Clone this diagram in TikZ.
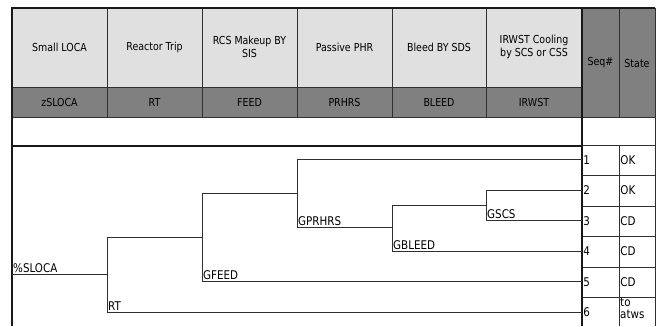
\documentclass[tikz,border=0pt]{standalone}
\usepackage{fontspec}
\setmainfont{DejaVu Sans}[FakeStretch=0.86]
\definecolor{lightg}{HTML}{E0E0E0}
\definecolor{darkg}{HTML}{808080}
\definecolor{lnc}{HTML}{303030}
\begin{document}
\begin{tikzpicture}[x=1pt,y=-1pt,
  grid/.style={draw=lnc, line width=0.8pt},
  thickln/.style={draw=black!90, line width=1.7pt},
  branch/.style={draw=lnc, line width=0.8pt},
  hdr/.style={font=\fontsize{11}{13}\selectfont, align=center, text=black, inner sep=0pt},
  lbl/.style={font=\fontsize{12}{13}\selectfont, anchor=south west, inner sep=1pt},
  cellt/.style={font=\fontsize{12}{13}\selectfont, anchor=west, inner sep=1.2pt}]
\useasboundingbox (0,0) rectangle (660,326);
\clip (0,0) rectangle (660,326);
% fills
\fill[lightg] (12,8) rectangle (582,87);
\fill[darkg] (12,87) rectangle (582,117);
\fill[darkg] (582,8) rectangle (655,117);
% header grid
\foreach \x in {107,202,297,392,486} \draw[grid] (\x,8) -- (\x,117);
\draw[grid] (12,87) -- (582,87);
\draw[grid] (12,117) -- (655,117);
\draw[grid] (619,8) -- (619,117);
\draw[grid] (619,145) -- (619,326);
\draw[grid] (655,8) -- (655,326);
\foreach \y in {145,175.5,206,236.5,267,297.5} \draw[grid] (582,\y) -- (655,\y);
% thick borders
\draw[thickln] (12,8) -- (655,8);
\draw[thickln] (12,7.2) -- (12,326);
\draw[thickln] (582,8) -- (582,326);
\draw[thickln] (12,146) -- (582,146);
% header texts
\node[hdr] (h1) at (59.5,47) {Small LOCA};
\node[hdr] (h2) at (154.5,47) {Reactor Trip};
\node[hdr] (h3) at (249.5,47) {RCS Makeup BY\\SIS};
\node[hdr] (h4) at (344.5,47) {Passive PHR};
\node[hdr] (h5) at (439,47) {Bleed BY SDS};
\node[hdr] (h6) at (534,47) {IRWST Cooling\\by SCS or CSS};
\node[hdr] (c1) at (59.5,102) {zSLOCA};
\node[hdr] (c2) at (154.5,102) {RT};
\node[hdr] (c3) at (249.5,102) {FEED};
\node[hdr] (c4) at (344.5,102) {PRHRS};
\node[hdr] (c5) at (439,102) {BLEED};
\node[hdr] (c6) at (534,102) {IRWST};
\node[hdr] (seq) at (600.5,63) {Seq\#};
\node[hdr] (state) at (637,63) {State};
% tree coordinates
\coordinate (s0) at (12,274);
\coordinate (s1) at (107,274);
\coordinate (rtU) at (107,237);
\coordinate (rtD) at (107,312);
\coordinate (fU) at (202,237);
\coordinate (fT) at (202,193);
\coordinate (fD) at (202,281);
\coordinate (pM) at (297,193);
\coordinate (pT) at (297,159);
\coordinate (pD) at (297,227);
\coordinate (bM) at (392,227);
\coordinate (bT) at (392,205);
\coordinate (bD) at (392,251);
\coordinate (gM) at (486,205);
\coordinate (gT) at (486,190);
\coordinate (gD) at (486,220);
\coordinate (e1) at (582,159);
\coordinate (e2) at (582,190);
\coordinate (e3) at (582,220);
\coordinate (e4) at (582,251);
\coordinate (e5) at (582,281);
\coordinate (e6) at (582,312);
% branches
\draw[branch] (s0) -- (s1);
\draw[branch] (rtU) -- (rtD) -- (e6);
\draw[branch] (rtU) -- (fU);
\draw[branch] (fT) -- (fD) -- (e5);
\draw[branch] (fT) -- (pM);
\draw[branch] (pT) -- (pD) -- (bM);
\draw[branch] (pT) -- (e1);
\draw[branch] (bT) -- (bD) -- (e4);
\draw[branch] (bT) -- (gM);
\draw[branch] (gT) -- (gD) -- (e3);
\draw[branch] (gT) -- (e2);
% labels
\node[lbl] (l0) at (s0) {\%SLOCA};
\node[lbl] (l1) at (rtD) {RT};
\node[lbl] (l2) at (fD) {GFEED};
\node[lbl] (l3) at (pD) {GPRHRS};
\node[lbl] (l4) at (bD) {GBLEED};
\node[lbl] (l5) at (gD) {GSCS};
% seq / state
\node[cellt] (n1) at (582,160) {1};
\node[cellt] (n2) at (582,190.5) {2};
\node[cellt] (n3) at (582,221) {3};
\node[cellt] (n4) at (582,251.5) {4};
\node[cellt] (n5) at (582,282) {5};
\node[cellt] (n6) at (582,312.5) {6};
\node[cellt] (t1) at (619,160) {OK};
\node[cellt] (t2) at (619,190.5) {OK};
\node[cellt] (t3) at (619,221) {CD};
\node[cellt] (t4) at (619,251.5) {CD};
\node[cellt] (t5) at (619,282) {CD};
\node[cellt, anchor=north west, align=left, inner sep=1pt, font=\fontsize{12}{12}\selectfont] (t6) at (619,296.5) {to\\atws};
\end{tikzpicture}
\end{document}
